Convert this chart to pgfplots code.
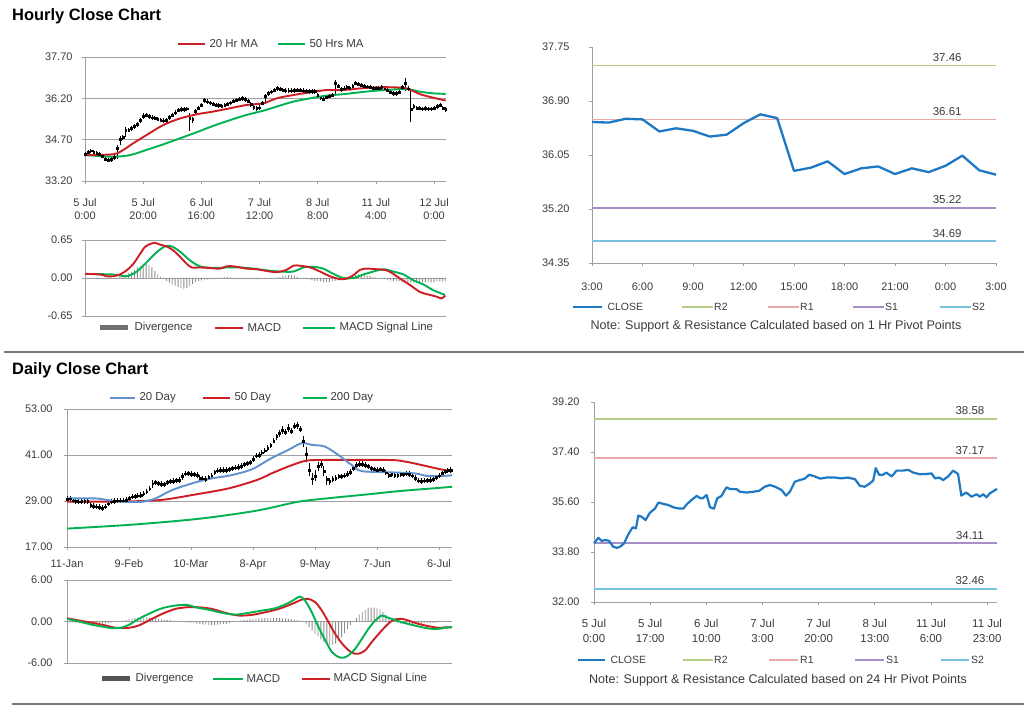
\documentclass[border=0pt]{standalone}
\usepackage{pgfplots}
\usepackage{pgfplotstable}
\pgfplotsset{compat=1.18}
\usepackage{fontspec}
\setmainfont{Liberation Sans}
\definecolor{maRed}{RGB}{205,30,35}
\definecolor{maGreen}{RGB}{0,178,80}
\definecolor{maBlue}{RGB}{95,145,205}
\definecolor{closeBlue}{RGB}{30,120,195}
\definecolor{rTwo}{RGB}{180,206,132}
\definecolor{rOne}{RGB}{232,168,168}
\definecolor{sOne}{RGB}{166,142,200}
\definecolor{sTwo}{RGB}{120,196,222}
\definecolor{gridc}{RGB}{160,160,160}
\definecolor{txt}{RGB}{60,60,60}
\definecolor{divc}{RGB}{140,140,140}
\definecolor{sep}{RGB}{120,120,120}

\tikzset{pvlab/.style={anchor=south, text=txt, font=\fontsize{11.5}{13}\selectfont, inner sep=1bp, yshift=3bp},
  pvline/.style={line width=1.8bp}}
\pgfplotsset{
  base/.style={
    scale only axis, anchor=south west,
    axis x line*=bottom, axis y line*=left,
    axis line style={gridc, line width=0.9bp},
    tick style={gridc, line width=0.7bp},
    major tick length=3bp, tick align=outside,
    tick label style={font=\fontsize{11}{13}\selectfont, text=txt},
    /pgf/number format/assume math mode=true,
    yticklabel style={/pgf/number format/fixed, /pgf/number format/fixed zerofill, /pgf/number format/precision=2},
  },
  gridy/.style={ymajorgrids, major grid style={gridc, line width=0.9bp}},
  candle/.style={only marks, mark=square*, mark size=0.9bp, mark options={black, fill=black}, black,
    error bars/y dir=both, error bars/y explicit, error bars/error mark=none, error bars/error bar style={black, line width=0.8bp}},
  maline/.style={line width=1.9bp, smooth, tension=0.5, mark=none},
}

% hourly candles: x close errplus errminus
\pgfplotstableread{
x c ep em
0 34.18 0.08 0.08
1 34.25 0.08 0.08
2 34.30 0.05 0.10
3 34.25 0.08 0.08
4 34.20 0.08 0.08
5 34.18 0.08 0.08
6 34.10 0.08 0.08
7 34.00 0.08 0.08
8 33.96 0.08 0.08
9 33.98 0.08 0.08
10 34.05 0.08 0.08
11 34.40 0.10 0.40
12 34.72 0.10 0.20
13 34.78 0.08 0.08
14 35.05 0.10 0.25
15 35.05 0.08 0.08
16 35.11 0.08 0.08
17 35.18 0.08 0.08
18 35.25 0.08 0.08
19 35.40 0.08 0.10
20 35.55 0.12 0.10
21 35.60 0.08 0.08
22 35.54 0.08 0.08
23 35.50 0.08 0.08
24 35.48 0.08 0.08
25 35.44 0.08 0.08
26 35.41 0.08 0.08
27 35.39 0.08 0.08
28 35.40 0.08 0.08
29 35.51 0.08 0.08
30 35.60 0.08 0.08
31 35.68 0.08 0.08
32 35.78 0.08 0.08
33 35.80 0.08 0.08
34 35.80 0.08 0.08
35 35.82 0.08 0.08
36 35.48 0.20 0.45
37 35.45 0.08 0.15
38 35.72 0.08 0.08
39 35.85 0.08 0.08
40 35.95 0.08 0.08
41 36.12 0.08 0.08
42 36.08 0.08 0.08
43 36.04 0.08 0.08
44 36.00 0.08 0.08
45 35.96 0.08 0.08
46 35.94 0.08 0.08
47 35.92 0.08 0.08
48 35.96 0.08 0.08
49 35.99 0.08 0.08
50 36.04 0.08 0.08
51 36.10 0.08 0.08
52 36.14 0.08 0.08
53 36.18 0.08 0.08
54 36.20 0.08 0.08
55 36.16 0.08 0.08
56 36.10 0.08 0.08
57 35.98 0.08 0.10
58 35.88 0.08 0.10
59 35.83 0.08 0.10
60 35.86 0.08 0.08
61 36.02 0.08 0.08
62 36.28 0.08 0.30
63 36.38 0.08 0.08
64 36.44 0.08 0.08
65 36.50 0.08 0.08
66 36.56 0.08 0.08
67 36.54 0.08 0.08
68 36.50 0.08 0.08
69 36.48 0.08 0.08
70 36.48 0.08 0.08
71 36.48 0.08 0.08
72 36.49 0.08 0.08
73 36.50 0.08 0.08
74 36.50 0.08 0.08
75 36.48 0.08 0.08
76 36.46 0.08 0.08
77 36.45 0.08 0.08
78 36.45 0.08 0.08
79 36.45 0.08 0.08
80 36.30 0.08 0.08
81 36.22 0.08 0.08
82 36.18 0.08 0.08
83 36.24 0.08 0.08
84 36.28 0.08 0.08
85 36.32 0.08 0.08
86 36.75 0.12 0.45
87 36.65 0.08 0.08
88 36.52 0.08 0.08
89 36.55 0.08 0.08
90 36.60 0.08 0.08
91 36.58 0.08 0.08
92 36.65 0.08 0.08
93 36.75 0.08 0.08
94 36.72 0.08 0.08
95 36.68 0.08 0.08
96 36.65 0.08 0.08
97 36.62 0.08 0.08
98 36.61 0.08 0.08
99 36.58 0.08 0.08
100 36.57 0.08 0.08
101 36.58 0.08 0.08
102 36.60 0.08 0.08
103 36.55 0.08 0.08
104 36.50 0.08 0.08
105 36.42 0.08 0.08
106 36.38 0.08 0.08
107 36.38 0.08 0.08
108 36.42 0.08 0.08
109 36.60 0.08 0.08
110 36.75 0.20 0.30
111 36.55 0.08 0.08
112 35.80 0.75 0.45
113 35.90 0.08 0.08
114 35.85 0.08 0.08
115 35.84 0.08 0.08
116 35.82 0.08 0.08
117 35.83 0.08 0.08
118 35.82 0.08 0.08
119 35.82 0.08 0.08
120 35.84 0.08 0.08
121 35.90 0.08 0.08
122 35.95 0.08 0.08
123 35.85 0.08 0.08
124 35.80 0.08 0.08
}\hcandles

% hourly MACD divergence
\pgfplotstableread{
x v
0 -0.01
1 -0.01
2 -0.01
3 -0.01
4 -0.015
5 -0.02
6 -0.02
7 -0.02
8 -0.02
9 -0.015
10 -0.01
11 -0.005
12 0.02
13 0.04
14 0.06
15 0.08
16 0.11
17 0.14
18 0.18
19 0.21
20 0.23
21 0.24
22 0.22
23 0.18
24 0.12
25 0.06
26 0.02
27 -0.02
28 -0.05
29 -0.08
30 -0.11
31 -0.13
32 -0.15
33 -0.17
34 -0.18
35 -0.17
36 -0.14
37 -0.10
38 -0.07
39 -0.05
40 -0.04
41 -0.03
42 -0.03
43 -0.02
44 -0.02
45 -0.01
46 -0.01
47 0.01
48 0.01
49 0.02
50 0.01
51 -0.01
52 -0.02
53 -0.02
54 -0.02
55 -0.02
56 -0.02
57 -0.02
58 -0.02
59 -0.02
60 -0.02
61 -0.01
62 -0.01
63 -0.01
64 -0.01
65 0.00
66 0.01
67 0.02
68 0.03
69 0.04
70 0.05
71 0.05
72 0.04
73 0.02
74 0.00
75 -0.01
76 -0.02
77 -0.03
78 -0.04
79 -0.05
80 -0.06
81 -0.06
82 -0.07
83 -0.07
84 -0.07
85 -0.06
86 -0.05
87 -0.04
88 -0.02
89 -0.01
90 0.00
91 0.02
92 0.03
93 0.05
94 0.06
95 0.06
96 0.05
97 0.04
98 0.03
99 0.02
100 0.01
101 0.00
102 -0.01
103 -0.02
104 -0.03
105 -0.04
106 -0.05
107 -0.06
108 -0.06
109 -0.07
110 -0.07
111 -0.08
112 -0.08
113 -0.08
114 -0.08
115 -0.08
116 -0.07
117 -0.07
118 -0.07
119 -0.07
120 -0.07
121 -0.06
122 -0.06
123 -0.06
124 -0.06
}\hdiv

% daily candles
\pgfplotstableread{
x c ep em
0 29.5 0.7 0.7
1 29.6 0.7 0.7
2 29.1 0.7 0.7
3 28.9 0.7 0.7
4 28.8 0.7 0.7
5 28.9 0.7 0.7
6 29.0 0.7 0.7
7 28.9 0.7 0.7
8 28.0 0.7 0.7
9 27.7 0.7 0.7
10 27.5 0.7 0.7
11 27.4 0.7 0.7
12 27.2 0.7 0.7
13 27.5 0.7 0.7
14 28.3 0.7 0.7
15 28.8 0.7 0.7
16 29.0 0.7 0.7
17 29.1 0.7 0.7
18 29.1 0.7 0.7
19 29.1 0.7 0.7
20 29.3 0.7 0.7
21 29.7 0.7 0.7
22 30.1 0.7 0.7
23 30.2 0.7 0.7
24 30.4 0.7 0.7
25 30.6 0.7 0.7
26 30.9 0.7 0.7
27 31.4 0.7 0.7
28 32.2 0.7 0.7
29 33.5 0.9 1.2
30 33.8 0.7 0.7
31 33.6 0.7 0.7
32 33.4 0.7 0.7
33 33.3 0.7 0.7
34 33.8 0.7 0.7
35 34.1 0.7 0.7
36 34.2 0.7 0.7
37 34.4 0.7 0.7
38 34.5 0.7 0.7
39 35.5 0.7 0.9
40 36.1 0.7 0.7
41 36.2 0.7 0.7
42 36.0 0.7 0.7
43 35.9 0.7 0.7
44 35.8 0.7 0.7
45 35.0 0.7 0.9
46 34.8 0.7 0.7
47 34.7 0.7 0.7
48 35.2 0.7 0.7
49 35.6 0.7 0.7
50 36.5 0.7 0.7
51 36.9 0.7 0.7
52 37.1 0.7 0.7
53 37.1 0.7 0.7
54 37.1 0.7 0.7
55 37.2 0.7 0.7
56 37.5 0.7 0.7
57 37.7 0.7 0.7
58 37.9 0.7 0.7
59 38.1 0.7 0.7
60 38.5 0.7 0.7
61 38.8 0.7 0.7
62 39.1 0.7 0.7
63 40.0 0.7 0.7
64 40.8 0.7 0.7
65 41.0 0.7 0.7
66 41.6 0.7 0.7
67 42.1 0.7 0.7
68 42.8 0.7 0.7
69 43.5 0.7 0.7
70 44.7 0.7 0.7
71 45.8 0.8 0.8
72 46.6 0.8 0.8
73 47.5 1.0 1.0
74 46.9 0.8 0.8
75 48.0 1.2 1.0
76 47.2 0.8 0.8
77 48.5 0.8 0.8
78 48.7 0.8 0.8
79 47.8 0.8 0.8
80 44.5 1.5 1.5
81 41.2 2.0 2.0
82 37.0 2.0 1.5
83 34.8 1.5 1.5
84 35.5 1.5 1.2
85 38.0 1.2 1.2
86 38.6 1.0 1.0
87 36.8 1.2 1.2
88 34.6 1.0 1.5
89 34.1 1.0 1.0
90 34.7 0.7 0.7
91 35.0 0.7 0.7
92 35.4 0.7 0.7
93 35.4 0.7 0.7
94 35.6 0.7 0.7
95 36.0 0.7 0.7
96 36.6 0.7 0.7
97 37.5 0.7 0.7
98 38.3 0.8 0.8
99 38.7 0.8 0.8
100 38.7 0.8 0.8
101 38.4 0.7 0.7
102 38.0 0.7 0.7
103 37.5 0.7 0.7
104 37.2 0.7 0.7
105 37.1 0.7 0.7
106 37.2 0.7 0.7
107 37.1 0.7 0.7
108 36.4 0.7 0.7
109 35.8 0.7 0.7
110 35.9 0.7 0.7
111 35.8 0.7 0.7
112 35.8 0.7 0.7
113 35.9 0.7 0.7
114 35.9 0.7 0.7
115 36.1 0.7 0.7
116 36.0 0.7 0.7
117 35.6 0.7 0.7
118 35.0 0.7 0.7
119 34.3 0.7 0.7
120 34.2 0.7 0.7
121 34.3 0.7 0.7
122 34.4 0.7 0.7
123 34.5 0.7 0.7
124 34.7 0.7 0.7
125 35.2 0.7 0.7
126 35.6 0.7 0.7
127 36.2 0.7 0.7
128 36.7 0.7 0.7
129 37.0 0.7 0.7
130 37.1 0.7 0.7
}\dcandles

% daily MACD divergence
\pgfplotstableread{
x v
0 -0.1
1 -0.1
2 -0.15
3 -0.2
4 -0.25
5 -0.3
6 -0.3
7 -0.35
8 -0.35
9 -0.35
10 -0.35
11 -0.3
12 -0.3
13 -0.25
14 -0.2
15 -0.15
16 -0.1
17 -0.05
18 0
19 0.1
20 0.2
21 0.3
22 0.4
23 0.5
24 0.55
25 0.6
26 0.6
27 0.6
28 0.55
29 0.5
30 0.45
31 0.4
32 0.3
33 0.25
34 0.2
35 0.15
36 0.1
37 0.05
38 0
39 -0.05
40 -0.1
41 -0.15
42 -0.2
43 -0.25
44 -0.3
45 -0.35
46 -0.4
47 -0.45
48 -0.5
49 -0.5
50 -0.5
51 -0.45
52 -0.4
53 -0.35
54 -0.3
55 -0.2
56 -0.1
57 0
58 0.1
59 0.15
60 0.2
61 0.25
62 0.3
63 0.35
64 0.4
65 0.45
66 0.5
67 0.5
68 0.5
69 0.5
70 0.5
71 0.5
72 0.5
73 0.45
74 0.4
75 0.35
76 0.3
77 0.25
78 0.2
79 0.1
80 0
81 -0.3
82 -0.8
83 -1.3
84 -1.8
85 -2.2
86 -2.6
87 -2.9
88 -3.2
89 -3.4
90 -3.4
91 -3.2
92 -2.8
93 -2.3
94 -1.7
95 -1.1
96 -0.5
97 0
98 0.5
99 1.0
100 1.4
101 1.7
102 1.9
103 2.0
104 2.0
105 1.9
106 1.7
107 1.4
108 1.0
109 0.6
110 0.2
111 -0.1
112 -0.2
113 -0.3
114 -0.35
115 -0.4
116 -0.4
117 -0.4
118 -0.35
119 -0.3
120 -0.3
121 -0.25
122 -0.2
123 -0.2
124 -0.2
125 -0.15
126 -0.1
127 -0.1
128 -0.05
129 0
130 0
}\ddiv

\begin{document}
\begin{tikzpicture}[x=1bp,y=1bp]
\useasboundingbox (0,0) rectangle (1024,706);
\fill[white] (0,0) rectangle (1024,706);

% titles and separators
\node[anchor=west, inner sep=0, font=\fontsize{16.5}{18}\selectfont\bfseries] at (12,690) {Hourly Close Chart};
\node[anchor=west, inner sep=0, font=\fontsize{16.5}{18}\selectfont\bfseries] at (12,336) {Daily Close Chart};
\draw[sep, line width=1.3bp] (4,354) -- (1024,354);
\draw[sep, line width=2bp] (12,2) -- (1024,2);

%================ hourly price
\begin{axis}[base, gridy, at={(85bp,525bp)}, width=361bp, height=124bp,
  xmin=0, xmax=124.1, ymin=33.2, ymax=37.7,
  ytick={33.2,34.7,36.2,37.7}, xtick={0,20,...,120},
  xticklabels={{5 Jul\\0:00},{5 Jul\\20:00},{6 Jul\\16:00},{7 Jul\\12:00},{8 Jul\\8:00},{11 Jul\\4:00},{12 Jul\\0:00}},
  xticklabel style={align=center, yshift=-11bp},
  yticklabel style={xshift=-6bp}]
\addplot[candle] table[x=x, y=c, y error plus=ep, y error minus=em] \hcandles;
\addplot[maline, maGreen] coordinates {(0,34.14)(9.7,34.08)(15.5,34.14)(21.2,34.33)(26.9,34.53)(32.7,34.75)(38.4,34.97)(44.1,35.20)(49.9,35.41)(55.6,35.60)(61.3,35.75)(65.9,35.90)(71.6,36.08)(77.4,36.20)(83.1,36.30)(88.8,36.35)(94.6,36.42)(100.3,36.48)(106,36.52)(110.6,36.54)(115.2,36.44)(119.8,36.38)(124,36.36)};
\addplot[maline, maRed] coordinates {(0,34.14)(9.7,34.17)(13.2,34.33)(16.6,34.57)(21.2,34.87)(26.9,35.23)(32.7,35.47)(38.4,35.62)(44.1,35.72)(49.9,35.84)(55.6,35.96)(61.3,36.02)(65.9,36.20)(71.6,36.32)(77.4,36.42)(83.1,36.50)(88.8,36.50)(94.6,36.56)(100.3,36.60)(106,36.60)(110.6,36.56)(115.2,36.35)(119.8,36.22)(124,36.12)};
\end{axis}
\draw[maRed, line width=1.9bp] (178,662) -- (205,662);
\node[anchor=west, text=txt, font=\fontsize{11.5}{13}\selectfont] at (206,662) {20 Hr MA};
\draw[maGreen, line width=1.9bp] (278,662) -- (305,662);
\node[anchor=west, text=txt, font=\fontsize{11.5}{13}\selectfont] at (306,662) {50 Hrs MA};

%================ hourly MACD
\begin{axis}[base, gridy, at={(85bp,390bp)}, width=361bp, height=76bp,
  xmin=0, xmax=124.1, ymin=-0.65, ymax=0.65, ytick={-0.65,0,0.65}, xtick=\empty,
  yticklabel style={xshift=-6bp}]
\addplot[ybar, bar width=0.9bp, fill=divc, draw=none] table[x=x, y=v] \hdiv;
\addplot[maline, maGreen] coordinates {(0,0.07)(9.7,0.06)(14.3,0.03)(17.8,0.11)(21.2,0.27)(24.6,0.44)(27.5,0.54)(29.8,0.54)(32.7,0.45)(36.1,0.30)(39.5,0.20)(44.1,0.17)(48.7,0.18)(53.3,0.18)(57.9,0.16)(62.5,0.13)(67,0.11)(71.6,0.11)(75.1,0.18)(78.5,0.19)(81.9,0.16)(85.4,0.07)(88.8,0.00)(92.3,0.00)(95.7,0.06)(99.1,0.11)(102.6,0.15)(106,0.11)(109.5,0.06)(112.9,-0.04)(116.3,-0.11)(119.8,-0.21)(123.8,-0.29)};
\addplot[maline, maRed] coordinates {(0,0.07)(5.2,0.06)(7.4,0.03)(9.7,0.03)(12,0.06)(14.3,0.13)(16.6,0.24)(18.9,0.41)(20.6,0.53)(22.3,0.58)(24.1,0.60)(25.8,0.57)(28.1,0.54)(30.4,0.47)(32.7,0.36)(35,0.24)(36.7,0.18)(39.5,0.18)(43,0.17)(46.4,0.16)(48.7,0.20)(51,0.20)(53.3,0.18)(55.6,0.16)(59,0.15)(62.5,0.12)(65.9,0.10)(69.3,0.14)(71.6,0.21)(73.9,0.21)(77.4,0.18)(80.8,0.11)(84.2,0.03)(87.7,-0.02)(90,-0.01)(92.3,0.05)(94.6,0.14)(96.8,0.16)(100.3,0.15)(103.7,0.13)(106,0.07)(108.3,-0.01)(111.7,-0.12)(115.2,-0.24)(118.6,-0.29)(120.9,-0.32)(122.6,-0.35)(123.8,-0.30)};
\end{axis}
\fill[divc!80!black] (100,375.5) rectangle (128,380.5);
\node[anchor=west, text=txt, font=\fontsize{11.5}{13}\selectfont] at (131,378) {Divergence};
\draw[maRed, line width=1.9bp] (215,378) -- (243,378);
\node[anchor=west, text=txt, font=\fontsize{11.5}{13}\selectfont] at (244,378) {MACD};
\draw[maGreen, line width=1.9bp] (303,378) -- (335,378);
\node[anchor=west, text=txt, font=\fontsize{11.5}{13}\selectfont] at (336,378) {MACD Signal Line};

%================ hourly pivot
\begin{axis}[base, at={(592bp,443bp)}, width=404bp, height=216bp,
  xmin=0, xmax=24, ymin=34.35, ymax=37.75,
  ytick={34.35,35.2,36.05,36.9,37.75}, xtick={0,3,...,24},
  xticklabels={3:00,6:00,9:00,12:00,15:00,18:00,21:00,0:00,3:00},
  xticklabel style={yshift=-13bp},
  yticklabel style={xshift=-16bp}, clip=false]
\addplot[rTwo, line width=1.8bp] coordinates {(0,37.46)(24,37.46)};
\addplot[rOne, line width=1.8bp] coordinates {(0,36.61)(24,36.61)};
\addplot[sOne, line width=1.8bp] coordinates {(0,35.22)(24,35.22)};
\addplot[sTwo, line width=1.8bp] coordinates {(0,34.69)(24,34.69)};
\addplot[closeBlue, line width=2.3bp, line join=round] coordinates {(0,36.57)(1,36.56)(2,36.62)(3,36.61)(4,36.42)(5,36.47)(6,36.43)(7,36.34)(8,36.37)(9,36.55)(10,36.69)(11,36.63)(12,35.80)(13,35.85)(14,35.95)(15,35.75)(16,35.84)(17,35.87)(18,35.75)(19,35.84)(20,35.78)(21,35.88)(22,36.04)(23,35.81)(24,35.74)};
\node[pvlab] at (axis cs:21.1,37.46) {37.46};
\node[pvlab] at (axis cs:21.1,36.61) {36.61};
\node[pvlab] at (axis cs:21.1,35.22) {35.22};
\node[pvlab] at (axis cs:21.1,34.69) {34.69};
\end{axis}
\draw[closeBlue, line width=2bp] (573,399) -- (602,399);
\node[anchor=west, text=txt, font=\fontsize{10.5}{12}\selectfont] at (604,399) {CLOSE};
\draw[rTwo, pvline] (682,399) -- (713,399);
\node[anchor=west, text=txt, font=\fontsize{10.5}{12}\selectfont, inner sep=1bp] at (713,399) {R2};
\draw[rOne, pvline] (768,399) -- (799,399);
\node[anchor=west, text=txt, font=\fontsize{10.5}{12}\selectfont, inner sep=1bp] at (799,399) {R1};
\draw[sOne, pvline] (853,399) -- (884,399);
\node[anchor=west, text=txt, font=\fontsize{10.5}{12}\selectfont, inner sep=1bp] at (884,399) {S1};
\draw[sTwo, pvline] (940,399) -- (971,399);
\node[anchor=west, text=txt, font=\fontsize{10.5}{12}\selectfont, inner sep=1bp] at (971,399) {S2};
\node[text=txt, font=\fontsize{12.6}{14}\selectfont] at (776,380) {Note: Support \& Resistance Calculated based on 1 Hr Pivot Points};

%================ daily price
\begin{axis}[base, gridy, at={(67bp,159bp)}, width=385bp, height=138bp,
  xmin=0, xmax=130.4, ymin=17, ymax=53,
  ytick={17,29,41,53}, xtick={0,21,...,126},
  xticklabels={11-Jan,9-Feb,10-Mar,8-Apr,9-May,7-Jun,6-Jul},
  xticklabel style={yshift=-6bp},
  yticklabel style={xshift=-8bp}]
\addplot[candle] table[x=x, y=c, y error plus=ep, y error minus=em] \dcandles;
\addplot[maline, maGreen] coordinates {(0,21.8)(22.5,22.85)(45.1,24.4)(64.4,26.5)(78.3,28.8)(90.2,29.85)(101.4,30.7)(112.7,31.6)(124,32.3)(130.4,32.7)};
\addplot[maline, maRed] coordinates {(0,28.8)(21,28.9)(32.2,29.3)(43.5,30.7)(54.8,32.3)(64.4,34.5)(69.3,36.2)(74.9,37.97)(80.6,39.45)(86.2,39.7)(108.8,39.7)(114.4,39.3)(120,38.4)(125.7,37.4)(130.4,36.7)};
\addplot[maline, maBlue] coordinates {(0,29.67)(9.7,29.67)(14,29.2)(18.7,28.8)(25.5,28.8)(30,29.67)(35.6,31.85)(43.5,33.86)(49.1,34.9)(54.8,35.6)(60.4,36.66)(63.8,37.7)(69.3,40.2)(74.9,42.3)(79.5,44.1)(82.8,43.65)(87.3,43.2)(91.9,41.0)(96.4,38.4)(99.7,36.8)(108.8,36.5)(117.8,36.2)(122.3,35.5)(129,35.6)(130.4,35.8)};
\end{axis}
\draw[maBlue, line width=1.9bp] (110,308) -- (135,308);
\node[anchor=west, text=txt, font=\fontsize{11.5}{13}\selectfont] at (136,308) {20 Day};
\draw[maRed, line width=1.9bp] (203,308) -- (230,308);
\node[anchor=west, text=txt, font=\fontsize{11.5}{13}\selectfont] at (231,308) {50 Day};
\draw[maGreen, line width=1.9bp] (303,308) -- (327,308);
\node[anchor=west, text=txt, font=\fontsize{11.5}{13}\selectfont] at (327,308) {200 Day};

%================ daily MACD
\begin{axis}[base, gridy, at={(67bp,43bp)}, width=385bp, height=83bp,
  xmin=0, xmax=130.4, ymin=-6, ymax=6, ytick={-6,0,6}, xtick=\empty,
  yticklabel style={xshift=-8bp}]
\addplot[ybar, bar width=0.9bp, fill=divc, draw=none] table[x=x, y=v] \ddiv;
\addplot[maline, maRed] coordinates {(0,0.48)(4.1,0.14)(8.6,-0.19)(13.1,-0.58)(16.5,-0.91)(21,-0.91)(24.3,-0.58)(27.7,0.14)(32.2,1.1)(36.7,1.82)(40.7,2.06)(44.6,2.06)(49.1,1.82)(53.6,1.25)(58.2,0.86)(62.7,0.96)(67.2,1.34)(71.7,1.82)(76.2,2.54)(79.6,3.17)(81.8,3.26)(84.1,2.78)(86.3,1.58)(88.6,-0.1)(90.8,-1.78)(93.7,-3.46)(96.5,-4.51)(98.7,-4.66)(101,-4.18)(103.2,-2.98)(106.6,-1.3)(109.4,-0.1)(111.1,0.29)(113.4,0.38)(115.6,0.14)(119,-0.34)(122.4,-0.67)(125.8,-0.91)(128,-0.86)(130.4,-0.82)};
\addplot[maline, maGreen] coordinates {(0,0.38)(4.1,0)(8.6,-0.48)(13.1,-0.82)(15.3,-0.96)(18.1,-0.91)(21,-0.48)(24.3,0.38)(27.7,1.1)(32.2,1.92)(36.7,2.3)(40.7,2.4)(43.5,2.06)(48,1.7)(52.5,1.25)(57,1.0)(61.5,1.25)(66,1.58)(70.6,1.92)(75.1,2.69)(77.3,3.26)(79,3.6)(80.7,3.0)(82.9,1.34)(85.2,-0.82)(87.5,-2.74)(89.7,-4.4)(92,-5.14)(93.7,-5.23)(95.3,-4.9)(97.6,-3.94)(99.9,-2.5)(102.1,-1.06)(104.4,0.14)(106.6,0.86)(108.3,0.62)(110,0.38)(113.4,-0.1)(116.8,-0.48)(120.1,-0.82)(123.5,-1.06)(125.8,-1.06)(128,-0.91)(130.4,-0.82)};
\end{axis}
\fill[divc!60!black] (102,24.5) rectangle (130,29.5);
\node[anchor=west, text=txt, font=\fontsize{11.5}{13}\selectfont] at (132,27) {Divergence};
\draw[maGreen, line width=1.9bp] (213,27) -- (243,27);
\node[anchor=west, text=txt, font=\fontsize{11.5}{13}\selectfont] at (243,27) {MACD};
\draw[maRed, line width=1.9bp] (302,27) -- (330,27);
\node[anchor=west, text=txt, font=\fontsize{11.5}{13}\selectfont] at (330,27) {MACD Signal Line};

%================ daily pivot
\begin{axis}[base, at={(594bp,104bp)}, width=403bp, height=200bp,
  xmin=0, xmax=122, ymin=32, ymax=39.2,
  ytick={32,33.8,35.6,37.4,39.2}, xtick={0,17,...,119},
  xticklabels={{5 Jul\\0:00},{5 Jul\\17:00},{6 Jul\\10:00},{7 Jul\\3:00},{7 Jul\\20:00},{8 Jul\\13:00},{11 Jul\\6:00},{11 Jul\\23:00}},
  xticklabel style={align=center, yshift=-11bp, font=\fontsize{11.5}{15}\selectfont},
  yticklabel style={xshift=-8bp}, clip=false]
\addplot[rTwo, line width=1.8bp] coordinates {(0,38.58)(122,38.58)};
\addplot[rOne, line width=1.8bp] coordinates {(0,37.17)(122,37.17)};
\addplot[sOne, line width=1.8bp] coordinates {(0,34.11)(122,34.11)};
\addplot[sTwo, line width=1.8bp] coordinates {(0,32.46)(122,32.46)};
\addplot[closeBlue, line width=2.2bp, line join=round] coordinates {(0,34.11)(1.3,34.31)(2.3,34.20)(3.4,34.23)(4.6,34.20)(5.8,33.99)(6.9,33.95)(7.9,33.99)(9.1,34.11)(10.4,34.44)(11.7,34.69)(12.7,34.65)(13.4,35.11)(14.4,35.07)(15.6,34.95)(16.9,35.21)(18.5,35.37)(19.5,35.58)(21,35.53)(22.5,35.49)(24,35.41)(25.5,35.37)(27,35.36)(28.2,35.53)(29.5,35.67)(31.1,35.82)(32.1,35.74)(32.9,35.73)(34.1,35.85)(35.1,35.41)(36.3,35.36)(37.3,35.73)(38.6,35.82)(40.1,36.13)(41.1,36.07)(43.2,36.06)(44.2,35.97)(46.2,35.94)(48.2,35.97)(50,36.00)(51.7,36.15)(53.2,36.21)(54.8,36.15)(56.8,36.03)(58.1,35.83)(59.3,35.97)(60.8,36.33)(62.3,36.39)(63.8,36.44)(65.1,36.58)(66.9,36.52)(68.4,36.44)(70.4,36.48)(72.9,36.48)(74.9,36.45)(76.9,36.48)(79,36.42)(80.5,36.18)(82,36.15)(83.5,36.27)(84.5,36.37)(85.3,36.82)(86.3,36.58)(87.5,36.58)(88.5,36.66)(90.1,36.52)(91.6,36.73)(93.6,36.73)(95.1,36.76)(96.6,36.66)(98.6,36.60)(100.6,36.61)(102.2,36.63)(103.2,36.45)(104.5,36.48)(105.7,36.39)(107.2,36.52)(108.7,36.73)(110.2,36.61)(111.2,35.83)(112.7,35.94)(114.3,35.79)(115.8,35.88)(116.8,35.79)(117.8,35.88)(118.8,35.77)(119.8,35.91)(122,36.07)};
\node[pvlab] at (axis cs:113.8,38.58) {38.58};
\node[pvlab] at (axis cs:113.8,37.17) {37.17};
\node[pvlab] at (axis cs:113.8,34.11) {34.11};
\node[pvlab] at (axis cs:113.8,32.46) {32.46};
\end{axis}
\draw[closeBlue, line width=2bp] (578,46) -- (605,46);
\node[anchor=west, text=txt, font=\fontsize{10.5}{12}\selectfont] at (607,46) {CLOSE};
\draw[rTwo, pvline] (683,46) -- (713,46);
\node[anchor=west, text=txt, font=\fontsize{10.5}{12}\selectfont, inner sep=1bp] at (713,46) {R2};
\draw[rOne, pvline] (769,46) -- (798,46);
\node[anchor=west, text=txt, font=\fontsize{10.5}{12}\selectfont, inner sep=1bp] at (799,46) {R1};
\draw[sOne, pvline] (855,46) -- (884,46);
\node[anchor=west, text=txt, font=\fontsize{10.5}{12}\selectfont, inner sep=1bp] at (885,46) {S1};
\draw[sTwo, pvline] (941,46) -- (969,46);
\node[anchor=west, text=txt, font=\fontsize{10.5}{12}\selectfont, inner sep=1bp] at (970,46) {S2};
\node[text=txt, font=\fontsize{12.6}{14}\selectfont] at (778,26) {Note: Support \& Resistance Calculated based on 24 Hr Pivot Points};
\end{tikzpicture}
\end{document}
